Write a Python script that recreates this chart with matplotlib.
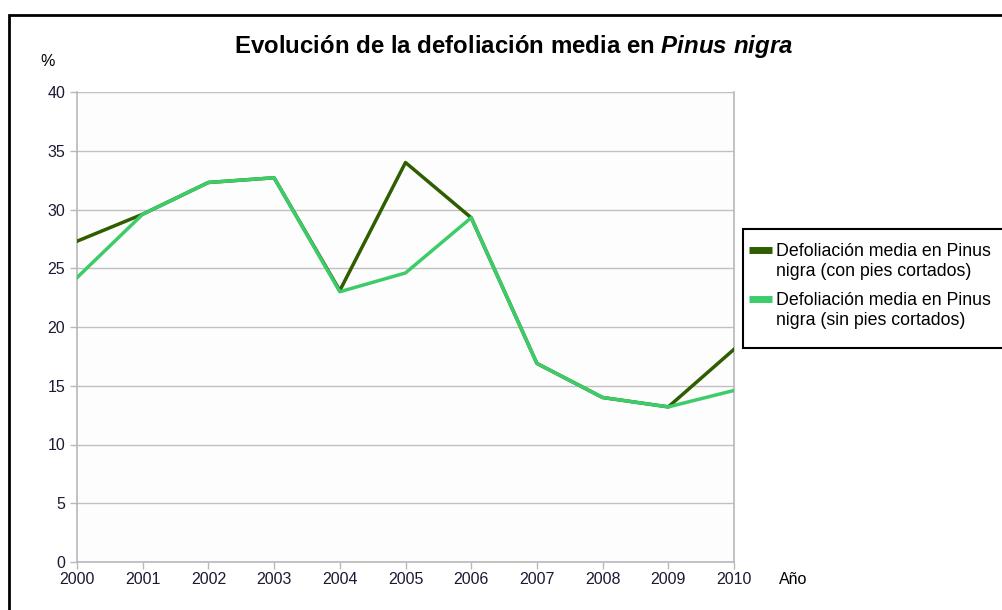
import numpy as np
import matplotlib.pyplot as plt
from matplotlib.patches import Rectangle

plt.rcParams['font.family'] = ['Liberation Sans', 'DejaVu Sans']
plt.rcParams['mathtext.fontset'] = 'custom'
plt.rcParams['mathtext.it'] = 'Liberation Sans:bold:italic'
plt.rcParams['mathtext.rm'] = 'Liberation Sans:bold'

years = [2000, 2001, 2002, 2003, 2004, 2005, 2006, 2007, 2008, 2009, 2010]
con_pies = [27.3, 29.6, 32.3, 32.7, 23.1, 34.0, 29.3, 16.9, 14.0, 13.2, 18.1]
sin_pies = [24.2, 29.6, 32.3, 32.7, 23.0, 24.6, 29.3, 16.9, 14.0, 13.2, 14.6]
y_ticks = [0, 5, 10, 15, 20, 25, 30, 35, 40]

label_con = 'Defoliación media en Pinus\nnigra (con pies cortados)'
label_sin = 'Defoliación media en Pinus\nnigra (sin pies cortados)'

fig = plt.figure(figsize=(10.03, 6.10), dpi=100)

# outer frame, cut off by the right and bottom edges
fig.patches.append(Rectangle((9 / 1003, -0.05), 1.1, 0.9754 + 0.05,
                             transform=fig.transFigure, fill=False,
                             edgecolor='black', linewidth=2))
# legend frame, also cut off on the right
fig.patches.append(Rectangle((743 / 1003, 1 - 348 / 610), 0.3, 119 / 610,
                             transform=fig.transFigure, facecolor='white',
                             edgecolor='black', linewidth=1.5, zorder=5))

ax = fig.add_axes([77 / 1003, 48 / 610, 657 / 1003, 470 / 610])
ax.set_facecolor('#fdfdfd')

l1, = ax.plot(years, con_pies, color='#2f5e00', linewidth=2.5, zorder=3)
l2, = ax.plot(years, sin_pies, color='#3dcc6a', linewidth=2.5, zorder=4)

ax.set_xlim(2000, 2010)
ax.set_ylim(0, 40)
ax.set_xticks(years)
ax.set_yticks(y_ticks)
ax.grid(axis='y', color='#c0c0c0', linewidth=1)
ax.set_axisbelow(True)
for side in ['left', 'bottom', 'right']:
    ax.spines[side].set_color('#b8b8b8')
    ax.spines[side].set_linewidth(1.2)
ax.spines['top'].set_visible(False)
ax.tick_params(axis='both', colors='#b8b8b8', labelcolor='#1a1a33',
               labelsize=11.5, length=5, width=1)
ax.tick_params(axis='x', pad=2)

fig.text(514 / 1003, 1 - 46 / 610,
         r'Evolución de la defoliación media en $\it{Pinus\ nigra}$',
         ha='center', va='center', fontsize=17.3, fontweight='bold')
fig.text(48 / 1003, 1 - 62 / 610, '%', ha='center', va='center', fontsize=11.5)
fig.text(793 / 1003, 1 - 579 / 610, 'Año', ha='center', va='center', fontsize=11.5)

leg = fig.legend([l1, l2], [label_con, label_sin], loc='upper left',
                 bbox_to_anchor=(744 / 1003, 1 - 238 / 610),
                 fontsize=12.8, frameon=False,
                 handlelength=1.25, handletextpad=0.25, borderpad=0.3,
                 labelspacing=0.68, borderaxespad=0)
leg.set_zorder(6)
for h in leg.get_lines():
    h.set_linewidth(5)
    h.set_solid_capstyle('butt')
    # handle sits level with the first text line
    h.set_ydata(np.asarray(h.get_ydata()) + 8.5)

fig.savefig('out.png', dpi=100)
